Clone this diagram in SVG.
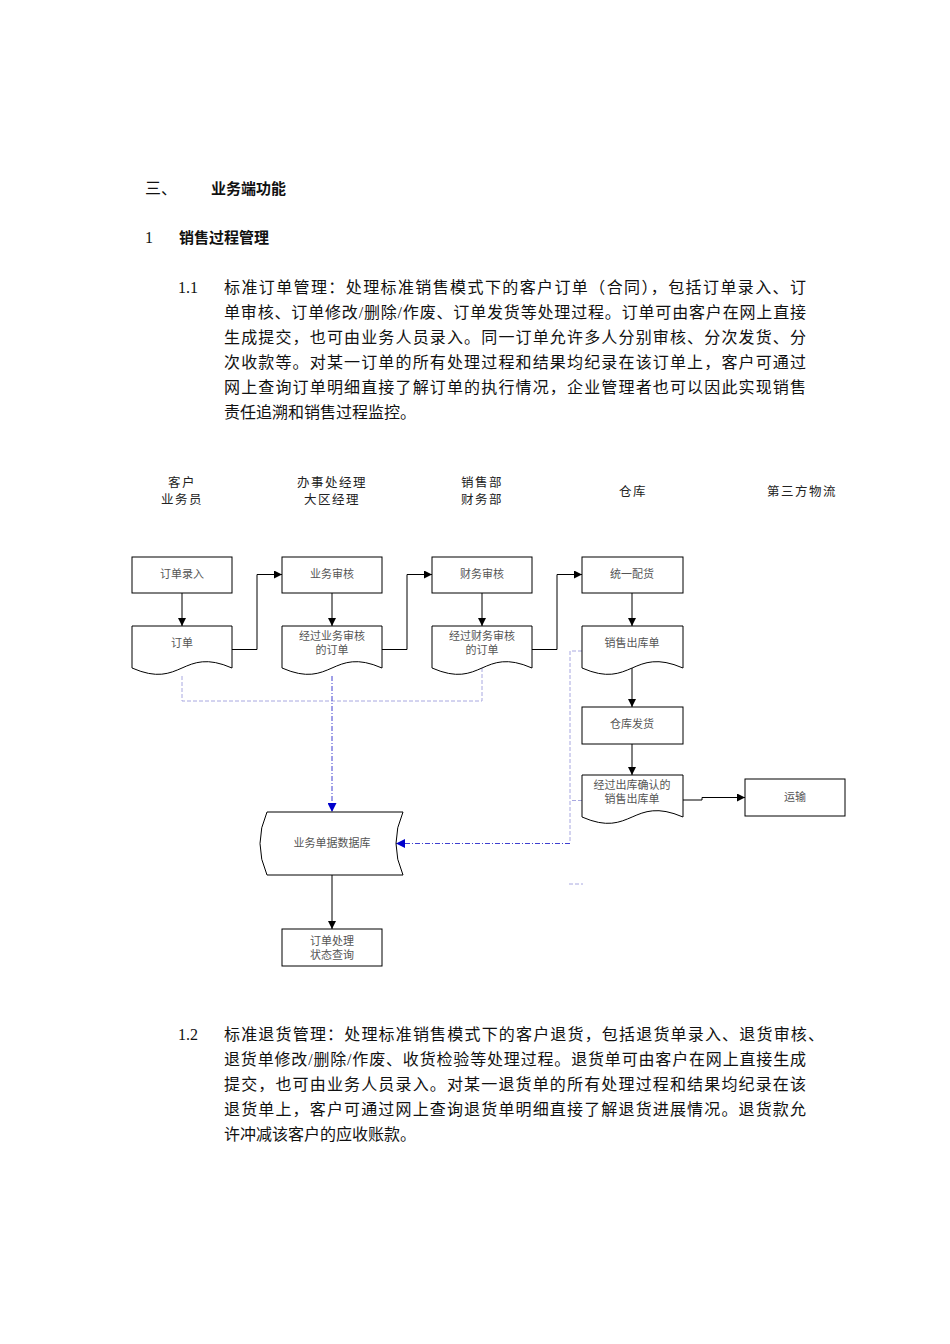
<svg xmlns="http://www.w3.org/2000/svg" width="950" height="1344" viewBox="0 0 950 1344">
<defs>
<style>
.bg{fill:#ffffff}
.body{font-family:"Liberation Serif","Noto Sans CJK SC",serif;font-size:16px;fill:#111}
.head{font-family:"Liberation Serif","Noto Sans CJK SC",serif;font-size:16px;fill:#111}
.bold{font-family:"Noto Sans CJK SC",sans-serif;font-size:15px;font-weight:bold;fill:#111}
.col{font-family:"Noto Sans CJK SC",sans-serif;font-size:12.5px;fill:#222;text-anchor:middle;letter-spacing:1.5px}
.lbl{font-family:"Noto Sans CJK SC",sans-serif;font-size:11px;fill:#555;text-anchor:middle}
.shape{fill:#ffffff;stroke:#000;stroke-width:1}
.flow{fill:none;stroke:#000;stroke-width:1}
.dash{fill:none;stroke:#a8a8e0;stroke-width:1;stroke-dasharray:4,2}
.dashd{fill:none;stroke:#4040d0;stroke-width:1;stroke-dasharray:5,2,1,2}
</style>
<marker id="ah" viewBox="0 0 10 10" refX="10" refY="5" markerWidth="8" markerHeight="8" markerUnits="userSpaceOnUse" orient="auto">
<path d="M0,0 L10,5 L0,10 Z" fill="#000"/>
</marker>
<marker id="ahb" viewBox="0 0 10 10" refX="10" refY="5" markerWidth="9" markerHeight="9" markerUnits="userSpaceOnUse" orient="auto">
<path d="M0,0 L10,5 L0,10 Z" fill="#0000cc"/>
</marker>
</defs>
<rect class="bg" x="0" y="0" width="950" height="1344"/>

<g id="text-top">
<text class="head" x="145" y="194">三、</text>
<text class="bold" x="211" y="194">业务端功能</text>
<text class="head" x="145" y="243">1</text>
<text class="bold" x="179" y="243">销售过程管理</text>
<text class="body" x="178" y="293">1.1</text>
<text class="body" x="224" y="293" textLength="582" lengthAdjust="spacing">标准订单管理：处理标准销售模式下的客户订单（合同），包括订单录入、订</text>
<text class="body" x="224" y="318" textLength="582" lengthAdjust="spacing">单审核、订单修改/删除/作废、订单发货等处理过程。订单可由客户在网上直接</text>
<text class="body" x="224" y="343" textLength="582" lengthAdjust="spacing">生成提交，也可由业务人员录入。同一订单允许多人分别审核、分次发货、分</text>
<text class="body" x="224" y="368" textLength="582" lengthAdjust="spacing">次收款等。对某一订单的所有处理过程和结果均纪录在该订单上，客户可通过</text>
<text class="body" x="224" y="393" textLength="582" lengthAdjust="spacing">网上查询订单明细直接了解订单的执行情况，企业管理者也可以因此实现销售</text>
<text class="body" x="224" y="418">责任追溯和销售过程监控。</text>
</g>

<g id="columns">
<text class="col" x="182" y="487">客户</text>
<text class="col" x="182" y="504">业务员</text>
<text class="col" x="332" y="487">办事处经理</text>
<text class="col" x="332" y="504">大区经理</text>
<text class="col" x="482" y="487">销售部</text>
<text class="col" x="482" y="504">财务部</text>
<text class="col" x="633" y="496">仓库</text>
<text class="col" x="802" y="496">第三方物流</text>
</g>

<g id="connectors">
<path class="flow" d="M182,593 V626" marker-end="url(#ah)"/>
<path class="flow" d="M332,593 V626" marker-end="url(#ah)"/>
<path class="flow" d="M482,593 V626" marker-end="url(#ah)"/>
<path class="flow" d="M632,593 V626" marker-end="url(#ah)"/>
<path class="flow" d="M632,668 V707" marker-end="url(#ah)"/>
<path class="flow" d="M632,744 V775" marker-end="url(#ah)"/>
<path class="flow" d="M232,649.5 H257 V574.5 H282" marker-end="url(#ah)"/>
<path class="flow" d="M382,649.5 H407 V574.5 H432" marker-end="url(#ah)"/>
<path class="flow" d="M532,649.5 H557 V574.5 H582" marker-end="url(#ah)"/>
<path class="flow" d="M683,800 H702 V797.5 H745" marker-end="url(#ah)"/>
<path class="flow" d="M332,875 V929" marker-end="url(#ah)"/>
<path class="dash" d="M182,676 V701 H482 V668"/>
<path class="dashd" d="M332,676 V812" marker-end="url(#ahb)"/>
<path class="dash" d="M582,651 H570 V843"/>
<path class="dash" d="M582,800.5 H570"/>
<path class="dashd" d="M570,843.5 H396" marker-end="url(#ahb)"/>
<path class="dash" d="M569,884 H583"/>
</g>

<g id="n-order-entry">
<rect class="shape" x="132" y="557" width="100" height="36"/>
<text class="lbl" x="182" y="578">订单录入</text>
</g>
<g id="n-order">
<path class="shape" d="M132,626 H232 V668 C182,646 182,690 132,668 Z"/>
<text class="lbl" x="182" y="647">订单</text>
</g>
<g id="n-biz-review">
<rect class="shape" x="282" y="557" width="100" height="36"/>
<text class="lbl" x="332" y="578">业务审核</text>
</g>
<g id="n-biz-reviewed">
<path class="shape" d="M282,626 H382 V668 C332,646 332,690 282,668 Z"/>
<text class="lbl" x="332" y="640">经过业务审核</text>
<text class="lbl" x="332" y="654">的订单</text>
</g>
<g id="n-fin-review">
<rect class="shape" x="432" y="557" width="100" height="36"/>
<text class="lbl" x="482" y="578">财务审核</text>
</g>
<g id="n-fin-reviewed">
<path class="shape" d="M432,626 H532 V668 C482,646 482,690 432,668 Z"/>
<text class="lbl" x="482" y="640">经过财务审核</text>
<text class="lbl" x="482" y="654">的订单</text>
</g>
<g id="n-allocate">
<rect class="shape" x="582" y="557" width="101" height="36"/>
<text class="lbl" x="632" y="578">统一配货</text>
</g>
<g id="n-outbound">
<path class="shape" d="M582,626 H683 V668 C632,646 632,690 582,668 Z"/>
<text class="lbl" x="632" y="647">销售出库单</text>
</g>
<g id="n-ship">
<rect class="shape" x="582" y="707" width="101" height="37"/>
<text class="lbl" x="632" y="728">仓库发货</text>
</g>
<g id="n-confirmed">
<path class="shape" d="M582,775 H683 V817 C632,795 632,839 582,817 Z"/>
<text class="lbl" x="632" y="789">经过出库确认的</text>
<text class="lbl" x="632" y="803">销售出库单</text>
</g>
<g id="n-transport">
<rect class="shape" x="745" y="779" width="100" height="37"/>
<text class="lbl" x="795" y="801">运输</text>
</g>
<g id="n-database">
<path class="shape" d="M267,812 H403 Q389,843.5 403,875 H267 Q253,843.5 267,812 Z"/>
<text class="lbl" x="332" y="847">业务单据数据库</text>
</g>
<g id="n-query">
<rect class="shape" x="282" y="929" width="100" height="37"/>
<text class="lbl" x="332" y="945">订单处理</text>
<text class="lbl" x="332" y="959">状态查询</text>
</g>

<g id="text-bottom">
<text class="body" x="178" y="1040">1.2</text>
<text class="body" x="224" y="1040" textLength="600" lengthAdjust="spacing">标准退货管理：处理标准销售模式下的客户退货，包括退货单录入、退货审核、</text>
<text class="body" x="224" y="1065" textLength="582" lengthAdjust="spacing">退货单修改/删除/作废、收货检验等处理过程。退货单可由客户在网上直接生成</text>
<text class="body" x="224" y="1090" textLength="582" lengthAdjust="spacing">提交，也可由业务人员录入。对某一退货单的所有处理过程和结果均纪录在该</text>
<text class="body" x="224" y="1115" textLength="582" lengthAdjust="spacing">退货单上，客户可通过网上查询退货单明细直接了解退货进展情况。退货款允</text>
<text class="body" x="224" y="1140">许冲减该客户的应收账款。</text>
</g>
</svg>
